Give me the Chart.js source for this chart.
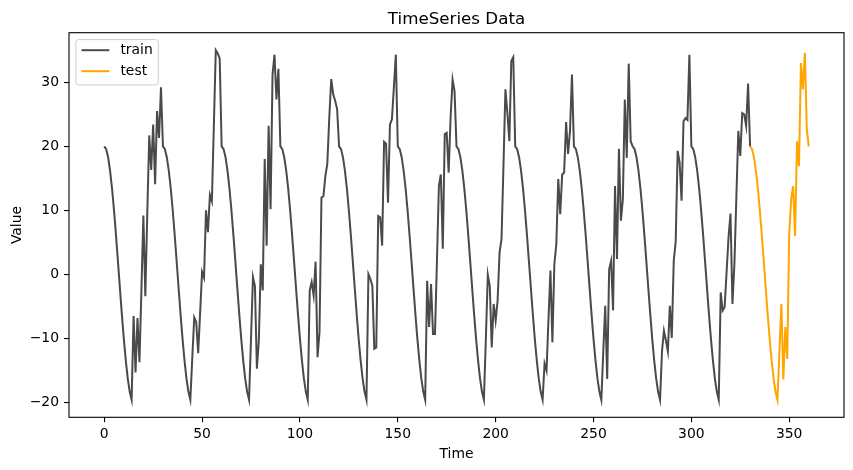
<!DOCTYPE html>
<html>
<head>
<meta charset="utf-8">
<script src="https://cdn.jsdelivr.net/npm/chart.js@4.4.0/dist/chart.umd.min.js"></script>
<style>
  html, body { margin: 0; padding: 0; background: #fff; }
</style>
</head>
<body>
<canvas id="chart" width="853" height="470"></canvas>
<script>
// values
const trainStart = 0;
const trainValues = [
  // 0-29
  20, 19.56, 18.27, 16.18, 13.38, 10, 6.18, 2.09, -2.09, -6.18, -10, -13.38, -16.18, -18.27, -19.56,
  -6.5, -15.3, -6.8, -13.7, -2.5, 9.2, -3.4, 9.5, 21.7, 16.3, 23.4, 14.1, 25.5, 21.3, 29.2,
  // 30-59
  20, 19.56, 18.27, 16.18, 13.38, 10, 6.18, 2.09, -2.09, -6.18, -10, -13.38, -16.18, -18.27, -19.56,
  -13, -6.7, -7.4, -12.3, -6, 0.4, -0.5, 10, 6.6, 12.4, 11.4, 23, 35, 34.5, 33.7,
  // 60-89
  20, 19.56, 18.27, 16.18, 13.38, 10, 6.18, 2.09, -2.09, -6.18, -10, -13.38, -16.18, -18.27, -19.56,
  -10, -0.4, -1.8, -14.7, -10.3, 1.6, -2.5, 18, 4.5, 23.2, 10.2, 31.2, 34.3, 27.3, 32.1,
  // 90-119
  20, 19.56, 18.27, 16.18, 13.38, 10, 6.18, 2.09, -2.09, -6.18, -10, -13.38, -16.18, -18.27, -19.56,
  -2.5, -1.2, -3.3, 2, -12.9, -9, 12, 12.2, 15.4, 17.3, 24.5, 30.5, 28.1, 27.1, 25.8,
  // 120-149
  20, 19.56, 18.27, 16.18, 13.38, 10, 6.18, 2.09, -2.09, -6.18, -10, -13.38, -16.18, -18.27, -19.56,
  0.05, -0.7, -1.8, -11.6, -11.4, 9.1, 8.9, 4.5, 20.7, 20.4, 11.2, 23.4, 24.2, 29.2, 34.3,
  // 150-179
  20, 19.56, 18.27, 16.18, 13.38, 10, 6.18, 2.09, -2.09, -6.18, -10, -13.38, -16.18, -18.27, -19.56,
  -1, -8.2, -1.5, -9.3, -9.3, 2, 13.8, 15.6, 4, 21.9, 22.1, 15.9, 24.6, 30.4, 28.6,
  // 180-209
  20, 19.56, 18.27, 16.18, 13.38, 10, 6.18, 2.09, -2.09, -6.18, -10, -13.38, -16.18, -18.27, -19.56,
  -10, -0.04, -1.8, -11.4, -4.6, -7.2, -4.1, 3.4, 5.5, 17, 28.9, 25.2, 20.8, 33.3, 33.9,
  // 210-239
  20, 19.56, 18.27, 16.18, 13.38, 10, 6.18, 2.09, -2.09, -6.18, -10, -13.38, -16.18, -18.27, -19.56,
  -13.9, -15, -7, 0.6, -10.6, 1.6, 4.7, 14.9, 9.4, 15.6, 15.9, 23.8, 18.8, 22.4, 31.2,
  // 240-269
  20, 19.56, 18.27, 16.18, 13.38, 10, 6.18, 2.09, -2.09, -6.18, -10, -13.38, -16.18, -18.27, -19.56,
  -12, -4.9, -16.3, 0.8, 2.1, -5.6, 13.8, 2.4, 19.6, 8.4, 11.7, 27.3, 18.2, 32.9, 20.8,
  // 270-299
  20, 19.56, 18.27, 16.18, 13.38, 10, 6.18, 2.09, -2.09, -6.18, -10, -13.38, -16.18, -18.27, -19.56,
  -12, -8.8, -10.3, -12, -4.9, -9.9, 2.1, 5.1, 19.3, 17.5, 11.5, 23.9, 24.4, 24.1, 34.3,
  // 300-329
  20, 19.56, 18.27, 16.18, 13.38, 10, 6.18, 2.09, -2.09, -6.18, -10, -13.38, -16.18, -18.27, -19.56,
  -2.8, -5.6, -5.1, 0.3, 5.8, 9.5, -4.6, 1.6, 12, 22.4, 18.5, 25.2, 25, 23.2, 29.8,
  // 330
  20
];

const testStart = 330;
const testValues = [
  20, 19.56, 18.27, 16.18, 13.38, 10, 6.18, 2.09, -2.09, -6.18, -10, -13.38, -16.18, -18.27, -19.56,
  -12, -4.6, -16.4, -8.2, -13.2, 6.3, 11.7, 13.8, 6, 20.8, 16.9, 33, 28.9, 34.6, 22.6, 20
];

const xTicks = [0, 50, 100, 150, 200, 250, 300, 350];
const yTicks = [-20, -10, 0, 10, 20, 30];

const FONT = "'DejaVu Sans', sans-serif";

const toPoints = (values, start) => values.map((v, i) => ({ x: start + i, y: v }));

// matplotlib-like frame, legend box and titles
const decorations = {
  id: 'decorations',
  afterDatasetsDraw(chart) {
    const { ctx, chartArea: a } = chart;
    ctx.save();
    ctx.strokeStyle = '#000';
    ctx.lineWidth = 1.1;
    ctx.strokeRect(a.left, a.top, a.right - a.left, a.bottom - a.top);

    // legend, upper left
    const lx = a.left + 6.9, ly = a.top + 6.9, lw = 82.4, lh = 45.4, r = 2.8;
    ctx.beginPath();
    ctx.moveTo(lx + r, ly);
    ctx.arcTo(lx + lw, ly, lx + lw, ly + lh, r);
    ctx.arcTo(lx + lw, ly + lh, lx, ly + lh, r);
    ctx.arcTo(lx, ly + lh, lx, ly, r);
    ctx.arcTo(lx, ly, lx + lw, ly, r);
    ctx.closePath();
    ctx.fillStyle = 'rgba(255,255,255,0.8)';
    ctx.fill();
    ctx.strokeStyle = '#cccccc';
    ctx.lineWidth = 1;
    ctx.stroke();

    ctx.font = '13.9px ' + FONT;
    ctx.textBaseline = 'middle';
    ctx.textAlign = 'left';
    chart.data.datasets.forEach((ds, i) => {
      const y = ly + 10.6 + i * 21;
      ctx.strokeStyle = ds.borderColor;
      ctx.lineWidth = 2;
      ctx.beginPath();
      ctx.moveTo(lx + 5.6, y);
      ctx.lineTo(lx + 33.4, y);
      ctx.stroke();
      ctx.fillStyle = '#000';
      ctx.fillText(ds.label, lx + 44.5, y + 0.5);
    });
    ctx.restore();
  },
  afterDraw(chart) {
    const { ctx, chartArea: a } = chart;
    const cx = (a.left + a.right) / 2;
    ctx.save();
    ctx.fillStyle = '#000';
    ctx.textAlign = 'center';
    ctx.textBaseline = 'alphabetic';
    ctx.font = '16.7px ' + FONT;
    ctx.fillText('TimeSeries Data', cx, a.top - 8.6);
    ctx.font = '13.9px ' + FONT;
    ctx.fillText('Time', cx, 458);
    ctx.translate(21, (a.top + a.bottom) / 2);
    ctx.rotate(-Math.PI / 2);
    ctx.fillText('Value', 0, 0);
    ctx.restore();
  }
};

new Chart(document.getElementById('chart'), {
  type: 'line',
  data: {
    datasets: [
      {
        label: 'train',
        data: toPoints(trainValues, trainStart),
        borderColor: '#4a4a4a',
        borderWidth: 2,
        pointRadius: 0,
        tension: 0
      },
      {
        label: 'test',
        data: toPoints(testValues, testStart),
        borderColor: '#ffa500',
        borderWidth: 2,
        pointRadius: 0,
        tension: 0
      }
    ]
  },
  options: {
    responsive: false,
    animation: false,
    devicePixelRatio: 1,
    layout: { padding: { top: 32.7, right: 9, left: 0, bottom: 0 } },
    plugins: {
      legend: { display: false },
      title: { display: false },
      tooltip: { enabled: false }
    },
    scales: {
      x: {
        type: 'linear',
        min: -18,
        max: 378,
        afterFit: s => { s.height = 52.7; },
        afterBuildTicks: s => { s.ticks = xTicks.map(v => ({ value: v })); },
        border: { display: false },
        grid: { drawOnChartArea: false, tickLength: 5, color: '#000', lineWidth: 1.1 },
        ticks: { color: '#000', padding: 4, maxRotation: 0, font: { family: FONT, size: 13.9 } }
      },
      y: {
        type: 'linear',
        min: -22.29,
        max: 37.73,
        afterFit: s => { s.width = 69; },
        afterBuildTicks: s => { s.ticks = yTicks.map(v => ({ value: v })); },
        border: { display: false },
        grid: { drawOnChartArea: false, tickLength: 5, color: '#000', lineWidth: 1.1 },
        ticks: {
          color: '#000',
          padding: 5,
          font: { family: FONT, size: 13.9 },
          callback: v => String(v).replace('-', '\u2212')
        }
      }
    }
  },
  plugins: [decorations]
});
</script>
</body>
</html>
